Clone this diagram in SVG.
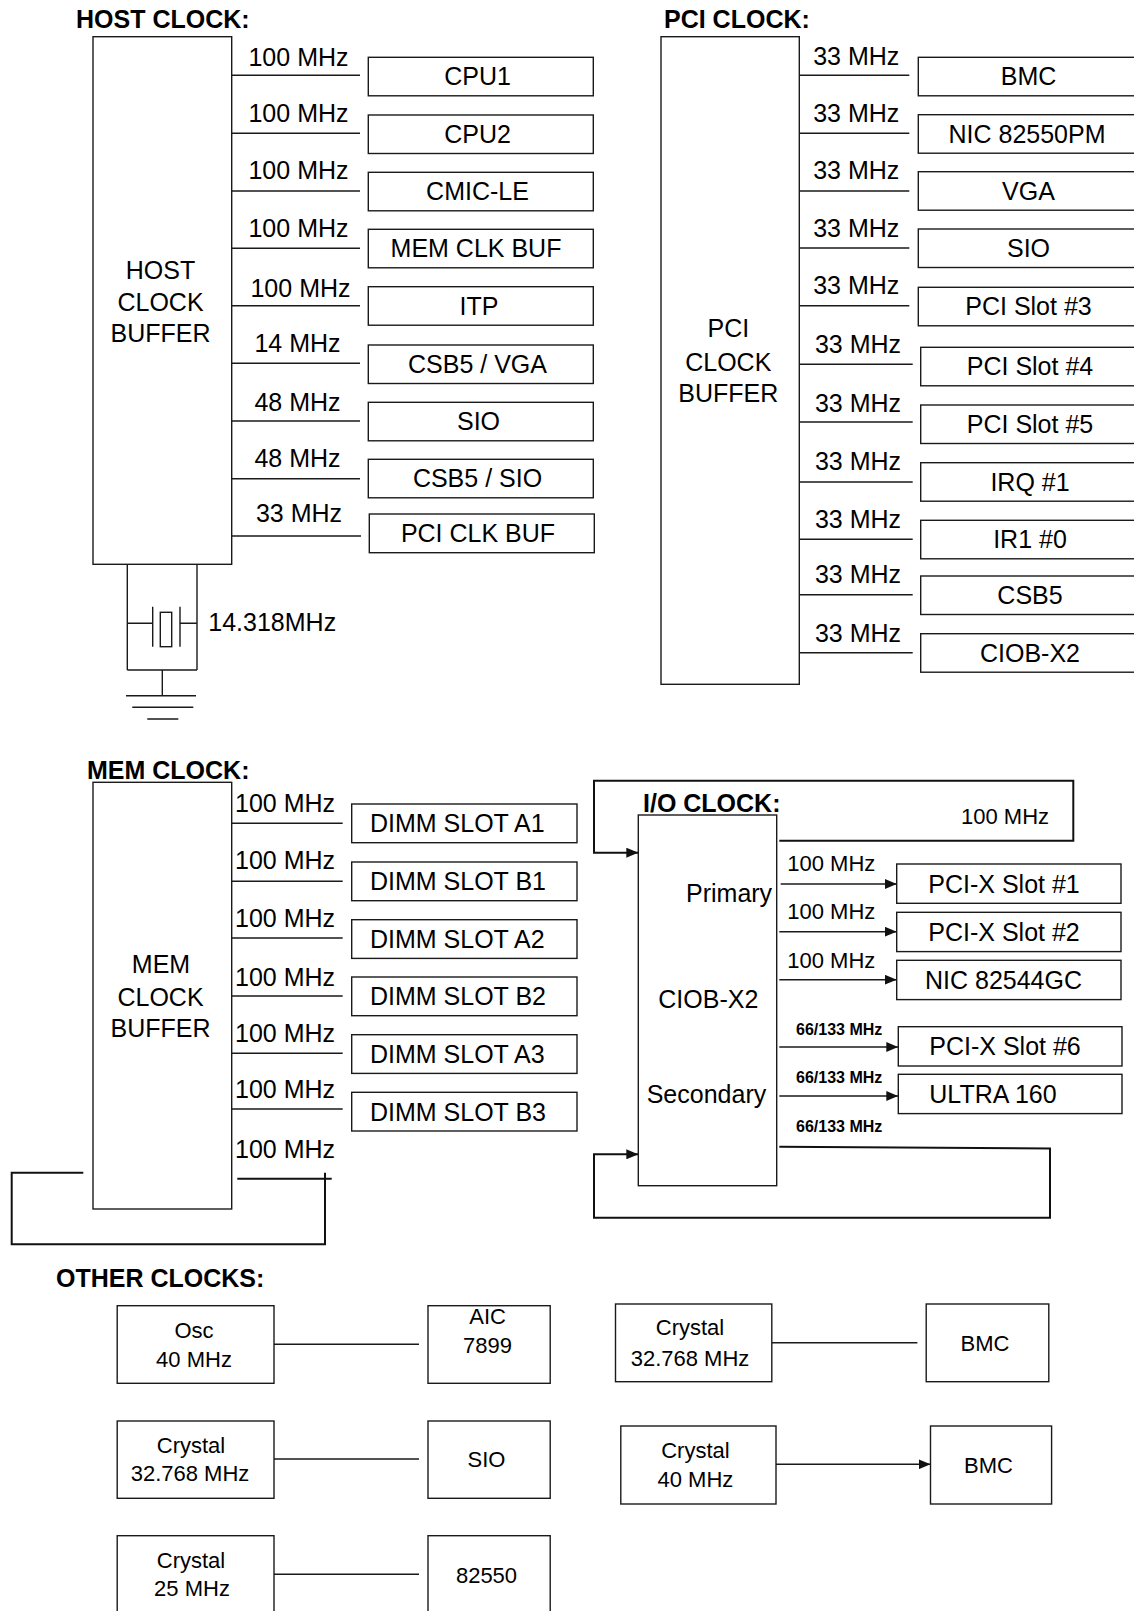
<svg xmlns="http://www.w3.org/2000/svg" width="1134" height="1611" viewBox="0 0 1134 1611">
<style>
  .bx { fill: #fff; stroke: #1a1a1a; stroke-width: 1.4; }
  .ln { fill: none; stroke: #1a1a1a; stroke-width: 1.4; }
  .lp { fill: none; stroke: #111; stroke-width: 2; }
  text { font-family: "Liberation Sans", Arial, sans-serif; fill: #000; }
  .t { font-size: 25px; }
  .tc { font-size: 25px; text-anchor: middle; }
  .ttl { font-size: 25px; font-weight: bold; }
  .s22 { font-size: 22px; }
  .s22c { font-size: 22px; text-anchor: middle; }
  .b16 { font-size: 16px; font-weight: bold; }
</style>
<defs>
  <marker id="arr" viewBox="0 0 12 10" refX="12" refY="5" markerWidth="12" markerHeight="10" markerUnits="userSpaceOnUse" orient="auto">
    <path d="M0,0 L12,5 L0,10 z" fill="#111"/>
  </marker>
</defs>
<rect width="1134" height="1611" fill="#fff"/>

<!-- Titles -->
<text class="ttl" x="76" y="28">HOST CLOCK:</text>
<text class="ttl" x="664" y="28">PCI CLOCK:</text>
<text class="ttl" x="87" y="779">MEM CLOCK:</text>
<text class="ttl" x="643" y="812">I/O CLOCK:</text>
<text class="ttl" x="56" y="1287">OTHER CLOCKS:</text>

<!-- Connectors -->
<g id="connectors">
  <!-- host -->
  <path class="ln" d="M232,75.3H360 M232,133.3H360 M232,191H360 M232,248.3H360 M232,305.7H360 M232,363.3H360 M232,421H360 M232,478.7H360 M232,536H361"/>
  <!-- crystal circuit -->
  <path class="ln" d="M127.3,564.3V670 M197,564.3V670 M127.3,670H197 M127.3,623.3H152.7 M180,623.3H197 M152.7,606.7V646.7 M180,606.7V646.7 M162.3,670V695.7 M126,695.7H196 M132.3,707.3H193.3 M147.3,719H178.3"/>
  <rect class="bx" x="160.3" y="612.3" width="11.4" height="34.4"/>
  <!-- pci -->
  <path class="ln" d="M799.3,75.3H909.3 M799.3,133.3H909.3 M799.3,191H909.3 M799.3,248H909.3 M799.3,305.7H909.3 M799.3,364.3H912.7 M799.3,422H912.7 M799.3,482H912.7 M799.3,539.3H912.7 M799.3,594.7H912.7 M799.3,652.7H912.7"/>
  <!-- mem -->
  <path class="ln" d="M231.7,823.3H342.7 M231.7,881.3H342.7 M231.7,938H342.7 M231.7,996H342.7 M231.7,1053.3H342.7 M231.7,1109H342.7"/>
  <path class="lp" d="M237.3,1178.7H331.7 M325,1172.7V1244.3H11.7V1172.7H83.3"/>
  <!-- io loops -->
  <path class="lp" d="M779.3,840.7H1073.3V780.7H594V852.7H638.3" marker-end="url(#arr)"/>
  <path class="lp" d="M779.3,1146.7L1050,1148.5V1217.7H594V1154.3H638.3" marker-end="url(#arr)"/>
  <!-- io arrows -->
  <path class="ln" d="M780.7,884H896.7" marker-end="url(#arr)"/>
  <path class="ln" d="M779.3,931.7H896.7" marker-end="url(#arr)"/>
  <path class="ln" d="M779.3,979.7H896.7" marker-end="url(#arr)"/>
  <path class="ln" d="M779.3,1047H898.3" marker-end="url(#arr)"/>
  <path class="ln" d="M779.3,1096H898.3" marker-end="url(#arr)"/>
  <!-- other clocks -->
  <path class="ln" d="M274,1344.3H419 M274,1459H419 M274,1574.3H419 M771.8,1342.7H917.4"/>
  <path class="ln" d="M776,1464.3H930.5" marker-end="url(#arr)"/>
</g>

<!-- Connector labels -->
<g id="labels">
  <text class="tc" x="298.5" y="65.7">100 MHz</text>
  <text class="tc" x="298.5" y="121.7">100 MHz</text>
  <text class="tc" x="298.5" y="179.3">100 MHz</text>
  <text class="tc" x="298.5" y="236.7">100 MHz</text>
  <text class="tc" x="300.5" y="296.7">100 MHz</text>
  <text class="tc" x="297.5" y="351.7">14 MHz</text>
  <text class="tc" x="297.5" y="411">48 MHz</text>
  <text class="tc" x="297.5" y="466.7">48 MHz</text>
  <text class="tc" x="299" y="522.3">33 MHz</text>
  <text class="t" x="208.3" y="631">14.318MHz</text>

  <text class="tc" x="856.3" y="65">33 MHz</text>
  <text class="tc" x="856.3" y="121.7">33 MHz</text>
  <text class="tc" x="856.3" y="179.3">33 MHz</text>
  <text class="tc" x="856.3" y="236.7">33 MHz</text>
  <text class="tc" x="856.3" y="294.3">33 MHz</text>
  <text class="tc" x="858" y="353">33 MHz</text>
  <text class="tc" x="858" y="411.7">33 MHz</text>
  <text class="tc" x="858" y="470">33 MHz</text>
  <text class="tc" x="858" y="528.3">33 MHz</text>
  <text class="tc" x="858" y="583.3">33 MHz</text>
  <text class="tc" x="858" y="641.7">33 MHz</text>

  <text class="t" x="235" y="811.7">100 MHz</text>
  <text class="t" x="235" y="869.3">100 MHz</text>
  <text class="t" x="235" y="927.3">100 MHz</text>
  <text class="t" x="235" y="985.7">100 MHz</text>
  <text class="t" x="235" y="1042.3">100 MHz</text>
  <text class="t" x="235" y="1097.7">100 MHz</text>
  <text class="t" x="235" y="1157.7">100 MHz</text>

  <text class="s22" x="961" y="824.3">100 MHz</text>
  <text class="s22" x="787.3" y="871">100 MHz</text>
  <text class="s22" x="787.3" y="919">100 MHz</text>
  <text class="s22" x="787.3" y="968.3">100 MHz</text>
  <text class="b16" x="796" y="1035">66/133 MHz</text>
  <text class="b16" x="796" y="1082.7">66/133 MHz</text>
  <text class="b16" x="796" y="1131.7">66/133 MHz</text>
</g>

<!-- HOST CLOCK -->
<g id="host-clock-buffer">
  <rect class="bx" x="93" y="36.7" width="138.7" height="527.6"/>
  <text class="tc" x="160.5" y="279.3">HOST</text>
  <text class="tc" x="160.5" y="311">CLOCK</text>
  <text class="tc" x="160.5" y="341.7">BUFFER</text>
</g>
<g id="host-cpu1"><rect class="bx" x="368.3" y="57.3" width="225" height="38.5"/><text class="tc" x="477.5" y="85.3">CPU1</text></g>
<g id="host-cpu2"><rect class="bx" x="368.3" y="115" width="225" height="38.5"/><text class="tc" x="477.5" y="143">CPU2</text></g>
<g id="host-cmic"><rect class="bx" x="368.3" y="172.3" width="225" height="38.5"/><text class="tc" x="477.5" y="200.3">CMIC-LE</text></g>
<g id="host-memclk"><rect class="bx" x="368.3" y="229.3" width="225" height="38.5"/><text class="tc" x="476" y="257.3">MEM CLK BUF</text></g>
<g id="host-itp"><rect class="bx" x="368.3" y="286.7" width="225" height="38.5"/><text class="tc" x="479" y="314.7">ITP</text></g>
<g id="host-csb5vga"><rect class="bx" x="368.3" y="345" width="225" height="38.5"/><text class="tc" x="477.5" y="373">CSB5 / VGA</text></g>
<g id="host-sio"><rect class="bx" x="368.3" y="402.3" width="225" height="38.5"/><text class="tc" x="478.5" y="430.3">SIO</text></g>
<g id="host-csb5sio"><rect class="bx" x="368.3" y="459.3" width="225" height="38.5"/><text class="tc" x="477.5" y="487.3">CSB5 / SIO</text></g>
<g id="host-pciclk"><rect class="bx" x="369.3" y="514" width="225" height="38.7"/><text class="tc" x="478" y="542.3">PCI CLK BUF</text></g>

<!-- PCI CLOCK -->
<g id="pci-clock-buffer">
  <rect class="bx" x="661" y="36.7" width="138.3" height="647.6"/>
  <text class="tc" x="728.3" y="337.3">PCI</text>
  <text class="tc" x="728.3" y="370.5">CLOCK</text>
  <text class="tc" x="728.3" y="401.7">BUFFER</text>
</g>
<g id="pci-bmc"><rect class="bx" x="918.3" y="57.3" width="220" height="38.5"/><text class="tc" x="1028.5" y="85.3">BMC</text></g>
<g id="pci-nic"><rect class="bx" x="918.3" y="114.7" width="220" height="38.5"/><text class="tc" x="1027" y="142.7">NIC 82550PM</text></g>
<g id="pci-vga"><rect class="bx" x="918.3" y="171.7" width="220" height="38.5"/><text class="tc" x="1028.5" y="199.7">VGA</text></g>
<g id="pci-sio"><rect class="bx" x="918.3" y="229" width="220" height="38.5"/><text class="tc" x="1028.5" y="257">SIO</text></g>
<g id="pci-slot3"><rect class="bx" x="918.3" y="287.3" width="220" height="38.5"/><text class="tc" x="1028.5" y="315.3">PCI Slot #3</text></g>
<g id="pci-slot4"><rect class="bx" x="920.7" y="347.3" width="220" height="38.5"/><text class="tc" x="1030" y="375.3">PCI Slot #4</text></g>
<g id="pci-slot5"><rect class="bx" x="920.7" y="405" width="220" height="38.5"/><text class="tc" x="1030" y="433">PCI Slot #5</text></g>
<g id="pci-irq1"><rect class="bx" x="920.7" y="462.7" width="220" height="38.5"/><text class="tc" x="1030" y="490.7">IRQ #1</text></g>
<g id="pci-ir10"><rect class="bx" x="920.7" y="520.3" width="220" height="38.5"/><text class="tc" x="1030" y="548.3">IR1 #0</text></g>
<g id="pci-csb5"><rect class="bx" x="920.7" y="576" width="220" height="38.5"/><text class="tc" x="1030" y="604">CSB5</text></g>
<g id="pci-ciob"><rect class="bx" x="920.7" y="633.7" width="220" height="38.5"/><text class="tc" x="1030" y="661.7">CIOB-X2</text></g>

<!-- MEM CLOCK -->
<g id="mem-clock-buffer">
  <rect class="bx" x="93" y="782.3" width="138.7" height="426.7"/>
  <text class="tc" x="161" y="973.3">MEM</text>
  <text class="tc" x="160.5" y="1005.7">CLOCK</text>
  <text class="tc" x="160.5" y="1036.7">BUFFER</text>
</g>
<g id="mem-a1"><rect class="bx" x="351.7" y="804" width="225.3" height="38.7"/><text class="t" x="370" y="832.3">DIMM SLOT A1</text></g>
<g id="mem-b1"><rect class="bx" x="351.7" y="862" width="225.3" height="38.7"/><text class="t" x="370" y="890.3">DIMM SLOT B1</text></g>
<g id="mem-a2"><rect class="bx" x="351.7" y="919.7" width="225.3" height="38.7"/><text class="t" x="370" y="948">DIMM SLOT A2</text></g>
<g id="mem-b2"><rect class="bx" x="351.7" y="977" width="225.3" height="38.7"/><text class="t" x="370" y="1005.3">DIMM SLOT B2</text></g>
<g id="mem-a3"><rect class="bx" x="351.7" y="1034.7" width="225.3" height="38.7"/><text class="t" x="370" y="1063">DIMM SLOT A3</text></g>
<g id="mem-b3"><rect class="bx" x="351.7" y="1092.3" width="225.3" height="38.7"/><text class="t" x="370" y="1120.6">DIMM SLOT B3</text></g>

<!-- I/O CLOCK -->
<g id="io-ciob">
  <rect class="bx" x="638.3" y="815" width="138.4" height="370.7"/>
  <text class="t" x="686" y="901.7">Primary</text>
  <text class="tc" x="708.3" y="1008.3">CIOB-X2</text>
  <text class="t" x="646.7" y="1102.7">Secondary</text>
</g>
<g id="io-slot1"><rect class="bx" x="896.7" y="864" width="224.3" height="39.3"/><text class="t" x="928.3" y="893">PCI-X Slot #1</text></g>
<g id="io-slot2"><rect class="bx" x="896.7" y="912.3" width="224.3" height="39.3"/><text class="t" x="928.3" y="941">PCI-X Slot #2</text></g>
<g id="io-nic"><rect class="bx" x="896.7" y="960.3" width="224.3" height="39.3"/><text class="t" x="925" y="989">NIC 82544GC</text></g>
<g id="io-slot6"><rect class="bx" x="898.3" y="1026.7" width="223.7" height="39.3"/><text class="t" x="929.3" y="1055">PCI-X Slot #6</text></g>
<g id="io-ultra"><rect class="bx" x="898.3" y="1074.3" width="223.7" height="39.3"/><text class="t" x="929.3" y="1103">ULTRA 160</text></g>

<!-- OTHER CLOCKS -->
<g id="oth-osc40"><rect class="bx" x="117.2" y="1305.7" width="156.8" height="77.6"/><text class="s22c" x="194" y="1338.3">Osc</text><text class="s22c" x="194" y="1366.7">40 MHz</text></g>
<g id="oth-aic"><rect class="bx" x="428" y="1305.7" width="122.2" height="77.6"/><text class="s22c" x="487.6" y="1324">AIC</text><text class="s22c" x="487.6" y="1353.3">7899</text></g>
<g id="oth-cry32a"><rect class="bx" x="117.2" y="1421" width="156.8" height="77.3"/><text class="s22c" x="191" y="1453.3">Crystal</text><text class="s22c" x="190" y="1481">32.768 MHz</text></g>
<g id="oth-sio"><rect class="bx" x="428" y="1421" width="122.2" height="77.3"/><text class="s22c" x="486.5" y="1466.7">SIO</text></g>
<g id="oth-cry25"><rect class="bx" x="117.2" y="1535.7" width="156.8" height="77.3"/><text class="s22c" x="191" y="1568.3">Crystal</text><text class="s22c" x="192" y="1596">25 MHz</text></g>
<g id="oth-82550"><rect class="bx" x="428" y="1535.7" width="122.2" height="77.3"/><text class="s22c" x="486.5" y="1583.3">82550</text></g>
<g id="oth-cry32b"><rect class="bx" x="615.5" y="1304" width="156.3" height="77.7"/><text class="s22c" x="690" y="1335">Crystal</text><text class="s22c" x="690" y="1366">32.768 MHz</text></g>
<g id="oth-bmc1"><rect class="bx" x="926.2" y="1304" width="122.6" height="77.7"/><text class="s22c" x="985" y="1351">BMC</text></g>
<g id="oth-cry40"><rect class="bx" x="620.8" y="1426" width="155.2" height="78"/><text class="s22c" x="695.4" y="1458.3">Crystal</text><text class="s22c" x="695.4" y="1486.7">40 MHz</text></g>
<g id="oth-bmc2"><rect class="bx" x="930.5" y="1426" width="121.1" height="78"/><text class="s22c" x="988.4" y="1472.7">BMC</text></g>
</svg>
